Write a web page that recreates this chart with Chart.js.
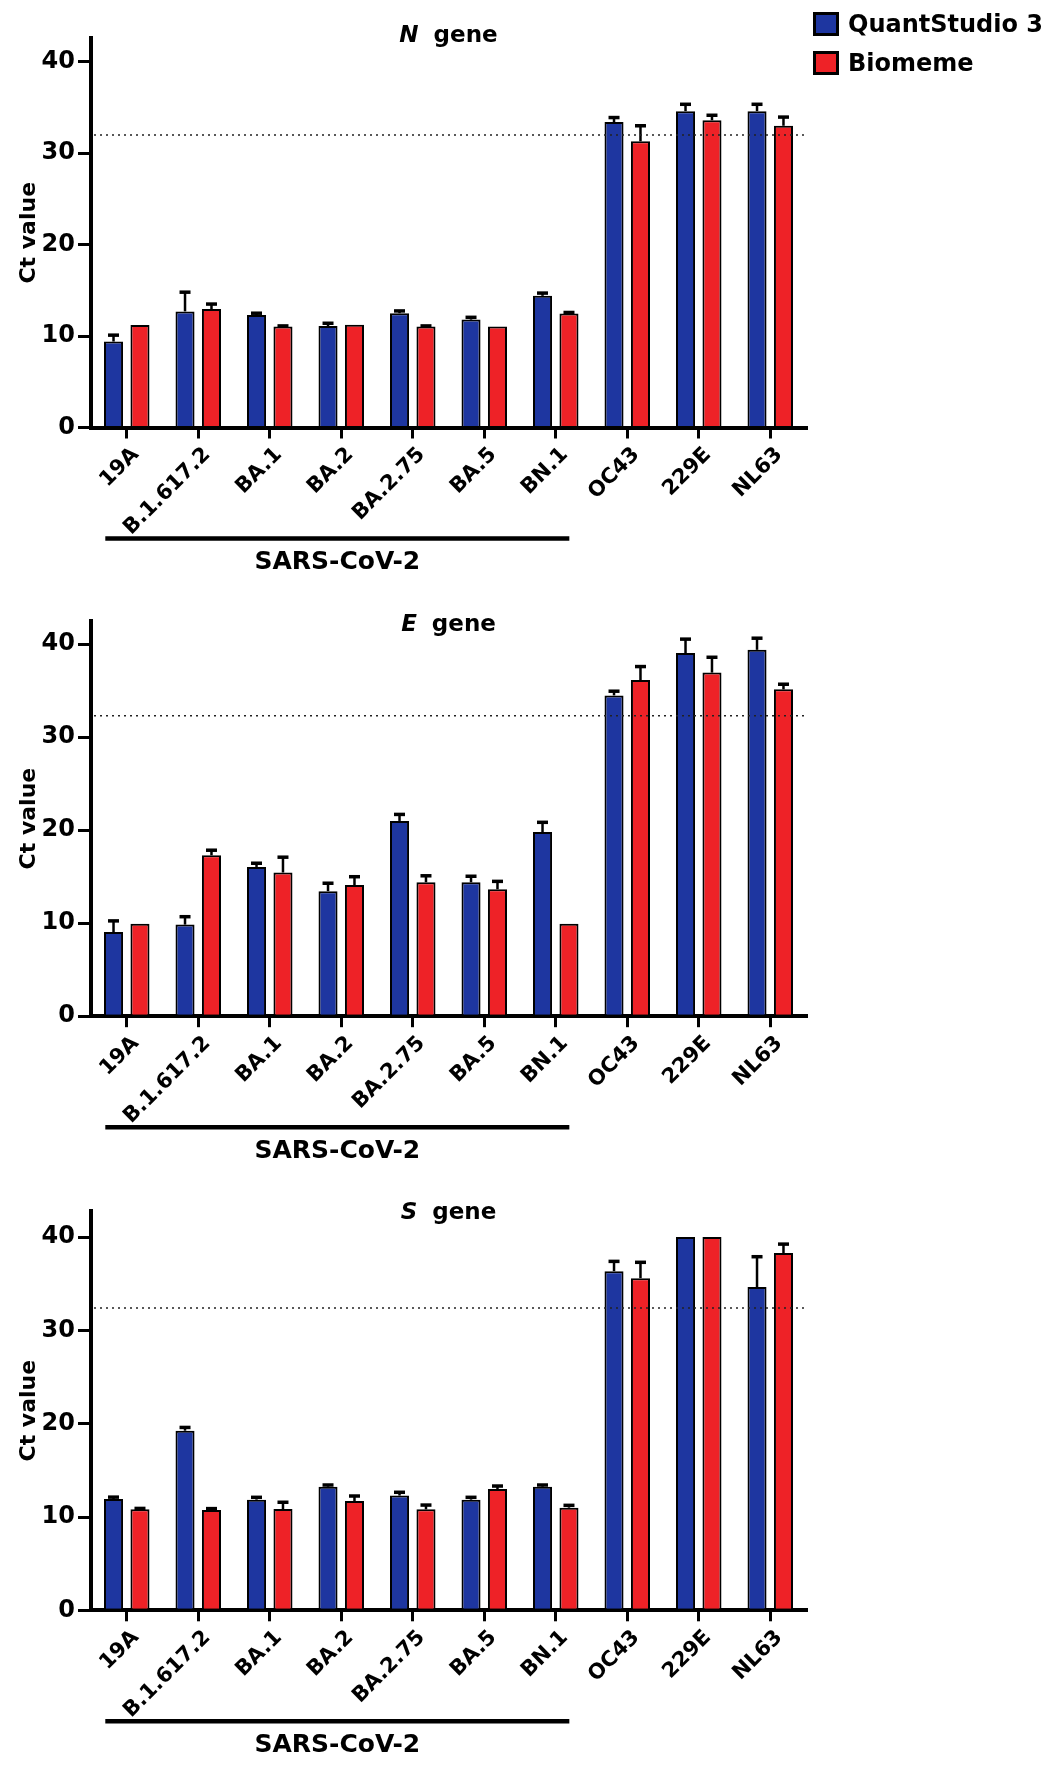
<!DOCTYPE html>
<html>
<head>
<meta charset="utf-8">
<script src="https://cdn.jsdelivr.net/npm/chart.js@4.4.0/dist/chart.umd.min.js"></script>
<style>
  body { margin: 0; background: #fff; }
  #page { position: relative; width: 1063px; height: 1768px; overflow: hidden; }
  canvas { position: absolute; left: 0; }
  .key { position: absolute; left: 813px; font: bold 24px "DejaVu Sans", sans-serif; color: #000; }
  .key span { position: absolute; left: 0; top: 0; width: 20px; height: 18px; border: 3px solid #000; }
  .key b { position: absolute; left: 35px; top: -2px; white-space: nowrap; }
</style>
</head>
<body>
<div id="page">
  <canvas id="n-chart" width="1063" height="590"></canvas>
  <canvas id="e-chart" width="1063" height="590"></canvas>
  <canvas id="s-chart" width="1063" height="590"></canvas>
  <div class="key" style="top:12px"><span style="background:#1e36a0"></span><b>QuantStudio 3</b></div>
  <div class="key" style="top:51px"><span style="background:#ee2227"></span><b>Biomeme</b></div>
</div>
<script>
const categories = ["19A", "B.1.617.2", "BA.1", "BA.2", "BA.2.75", "BA.5", "BN.1", "OC43", "229E", "NL63"];
const yTicks = [0, 10, 20, 30, 40];

// N gene
const nQuant = [9.4, 12.7, 12.3, 11.1, 12.5, 11.8, 14.4, 33.4, 34.6, 34.6];
const nQuantErr = [0.7, 2.1, 0.2, 0.3, 0.25, 0.25, 0.3, 0.5, 0.75, 0.75];
const nBio = [11.2, 12.95, 11.06, 11.24, 11.06, 11.06, 12.48, 31.3, 33.6, 33.0];
const nBioErr = [0, 0.55, 0.05, 0, 0.05, 0, 0.1, 1.7, 0.55, 0.95];
const nCutoff = 32.0;

// E gene
const eQuant = [9.05, 9.85, 16.05, 13.45, 21.0, 14.4, 19.8, 34.5, 39.05, 39.4];
const eQuantErr = [1.2, 0.85, 0.4, 0.85, 0.7, 0.65, 1.05, 0.45, 1.5, 1.25];
const eBio = [9.95, 17.3, 15.45, 14.1, 14.4, 13.65, 9.95, 36.15, 36.95, 35.15];
const eBioErr = [0, 0.55, 1.65, 0.9, 0.7, 0.85, 0, 1.45, 1.65, 0.55];
const eCutoff = 32.3;

// S gene
const sQuant = [11.93, 19.25, 11.86, 13.25, 12.3, 11.86, 13.25, 36.35, 40, 34.65];
const sQuantErr = [0.2, 0.35, 0.25, 0.18, 0.35, 0.25, 0.18, 1.05, 0, 3.25];
const sBio = [10.82, 10.75, 10.86, 11.72, 10.82, 13.0, 11.0, 35.6, 40, 38.3];
const sBioErr = [0.1, 0.15, 0.72, 0.53, 0.46, 0.32, 0.25, 1.7, 0, 0.95];
const sCutoff = 32.4;

const BLUE = "#1e36a0";
const RED = "#ee2227";
const FONT = '"DejaVu Sans", sans-serif';

// draws error bars, the cutoff line, the gene title and the SARS-CoV-2 bracket
const extras = {
  id: "extras",
  afterDatasetsDraw(chart, args, opts) {
    const ctx = chart.ctx;
    const y = chart.scales.y;
    const area = chart.chartArea;

    chart.data.datasets.forEach((ds, i) => {
      chart.getDatasetMeta(i).data.forEach((bar, j) => {
        const e = ds.errors[j];
        if (!e) return;
        const top = y.getPixelForValue(ds.data[j] + e);
        ctx.save();
        ctx.strokeStyle = "#000";
        ctx.lineWidth = 2.5;
        ctx.beginPath();
        ctx.moveTo(bar.x, bar.y);
        ctx.lineTo(bar.x, top);
        ctx.stroke();
        ctx.lineWidth = 3.5;
        ctx.beginPath();
        ctx.moveTo(bar.x - 5.5, top);
        ctx.lineTo(bar.x + 5.5, top);
        ctx.stroke();
        ctx.restore();
      });
    });

    // cutoff
    const cy = y.getPixelForValue(opts.cutoff);
    ctx.save();
    ctx.strokeStyle = "#222";
    ctx.lineWidth = 1.5;
    ctx.setLineDash([2, 4]);
    ctx.beginPath();
    ctx.moveTo(area.left + 3, cy);
    ctx.lineTo(area.right - 2, cy);
    ctx.stroke();
    ctx.restore();
  },
  afterDraw(chart, args, opts) {
    const ctx = chart.ctx;
    const x = chart.scales.x;
    const area = chart.chartArea;

    // title: italic gene letter + "gene"
    ctx.save();
    ctx.fillStyle = "#000";
    ctx.textBaseline = "middle";
    ctx.font = "italic bold 23px " + FONT;
    const w1 = ctx.measureText(opts.gene).width;
    ctx.font = "bold 23px " + FONT;
    const w2 = ctx.measureText("gene").width;
    const gap = 15;
    let tx = (area.left + area.right) / 2 - (w1 + gap + w2) / 2;
    const ty = area.top + opts.titleShift;
    ctx.font = "italic bold 23px " + FONT;
    ctx.fillText(opts.gene, tx, ty);
    ctx.font = "bold 23px " + FONT;
    ctx.fillText("gene", tx + w1 + gap, ty);

    // SARS-CoV-2 bracket under the first seven categories
    const cw = x.getPixelForValue(1) - x.getPixelForValue(0);
    const x0 = x.getPixelForValue(0) - 0.3 * cw;
    const x1 = x.getPixelForValue(6) + 0.19 * cw;
    const ly = area.bottom + 111;
    ctx.lineWidth = 4.5;
    ctx.strokeStyle = "#000";
    ctx.beginPath();
    ctx.moveTo(x0, ly);
    ctx.lineTo(x1, ly);
    ctx.stroke();
    ctx.font = "bold 25px " + FONT;
    ctx.textAlign = "center";
    ctx.fillText("SARS-CoV-2", (x0 + x1) / 2, area.bottom + 135);
    ctx.restore();
  },
};

function makePanel(id, canvasTop, plotHeight, yMax, gene, quant, quantErr, bio, bioErr, cutoff, titleShift) {
  const canvas = document.getElementById(id);
  canvas.style.top = canvasTop + "px";
  const padTop = 38;
  new Chart(canvas, {
    type: "bar",
    data: {
      labels: categories,
      datasets: [
        {
          label: "QuantStudio 3",
          data: quant,
          errors: quantErr,
          backgroundColor: BLUE,
          borderColor: "#000",
          borderWidth: 2,
          categoryPercentage: 0.74,
          barPercentage: 0.72,
        },
        {
          label: "Biomeme",
          data: bio,
          errors: bioErr,
          backgroundColor: RED,
          borderColor: "#000",
          borderWidth: 2,
          categoryPercentage: 0.74,
          barPercentage: 0.72,
        },
      ],
    },
    options: {
      responsive: false,
      animation: false,
      layout: { padding: { top: padTop, right: 1063 - 806, left: 0, bottom: 0 } },
      plugins: {
        legend: { display: false },
        tooltip: { enabled: false },
        extras: { cutoff: cutoff, gene: gene, titleShift: titleShift },
      },
      scales: {
        x: {
          offset: true,
          grid: { display: true, drawOnChartArea: false, offset: false, tickLength: 11, lineWidth: 3, color: "#000" },
          border: { display: true, width: 4, color: "#000" },
          ticks: {
            autoSkip: false,
            maxRotation: 45,
            minRotation: 45,
            padding: 4,
            labelOffset: 9,
            color: "#000",
            font: { family: FONT, size: 21, weight: "bold" },
          },
          afterFit(scale) {
            scale.height = 590 - padTop - plotHeight;
          },
        },
        y: {
          min: 0,
          max: yMax,
          grid: { display: true, drawOnChartArea: false, tickLength: 13, lineWidth: 3, color: "#000" },
          border: { display: true, width: 4, color: "#000" },
          ticks: {
            stepSize: 10,
            padding: 3,
            color: "#000",
            font: { family: FONT, size: 24, weight: "bold" },
          },
          title: {
            display: true,
            text: "Ct value",
            color: "#000",
            padding: { top: 16, bottom: 0 },
            font: { family: FONT, size: 22, weight: "bold" },
          },
          afterBuildTicks(scale) {
            scale.ticks = yTicks.map((v) => ({ value: v }));
          },
          afterFit(scale) {
            scale.width = 91;
          },
        },
      },
    },
    plugins: [extras],
  });
}

makePanel("n-chart", 0, 389.5, 42.6, "N", nQuant, nQuantErr, nBio, nBioErr, nCutoff, -2);
makePanel("e-chart", 583, 395.2, 42.5, "E", eQuant, eQuantErr, eBio, eBioErr, eCutoff, 4);
makePanel("s-chart", 1173, 399.3, 42.8, "S", sQuant, sQuantErr, sBio, sBioErr, sCutoff, 2);
</script>
</body>
</html>
